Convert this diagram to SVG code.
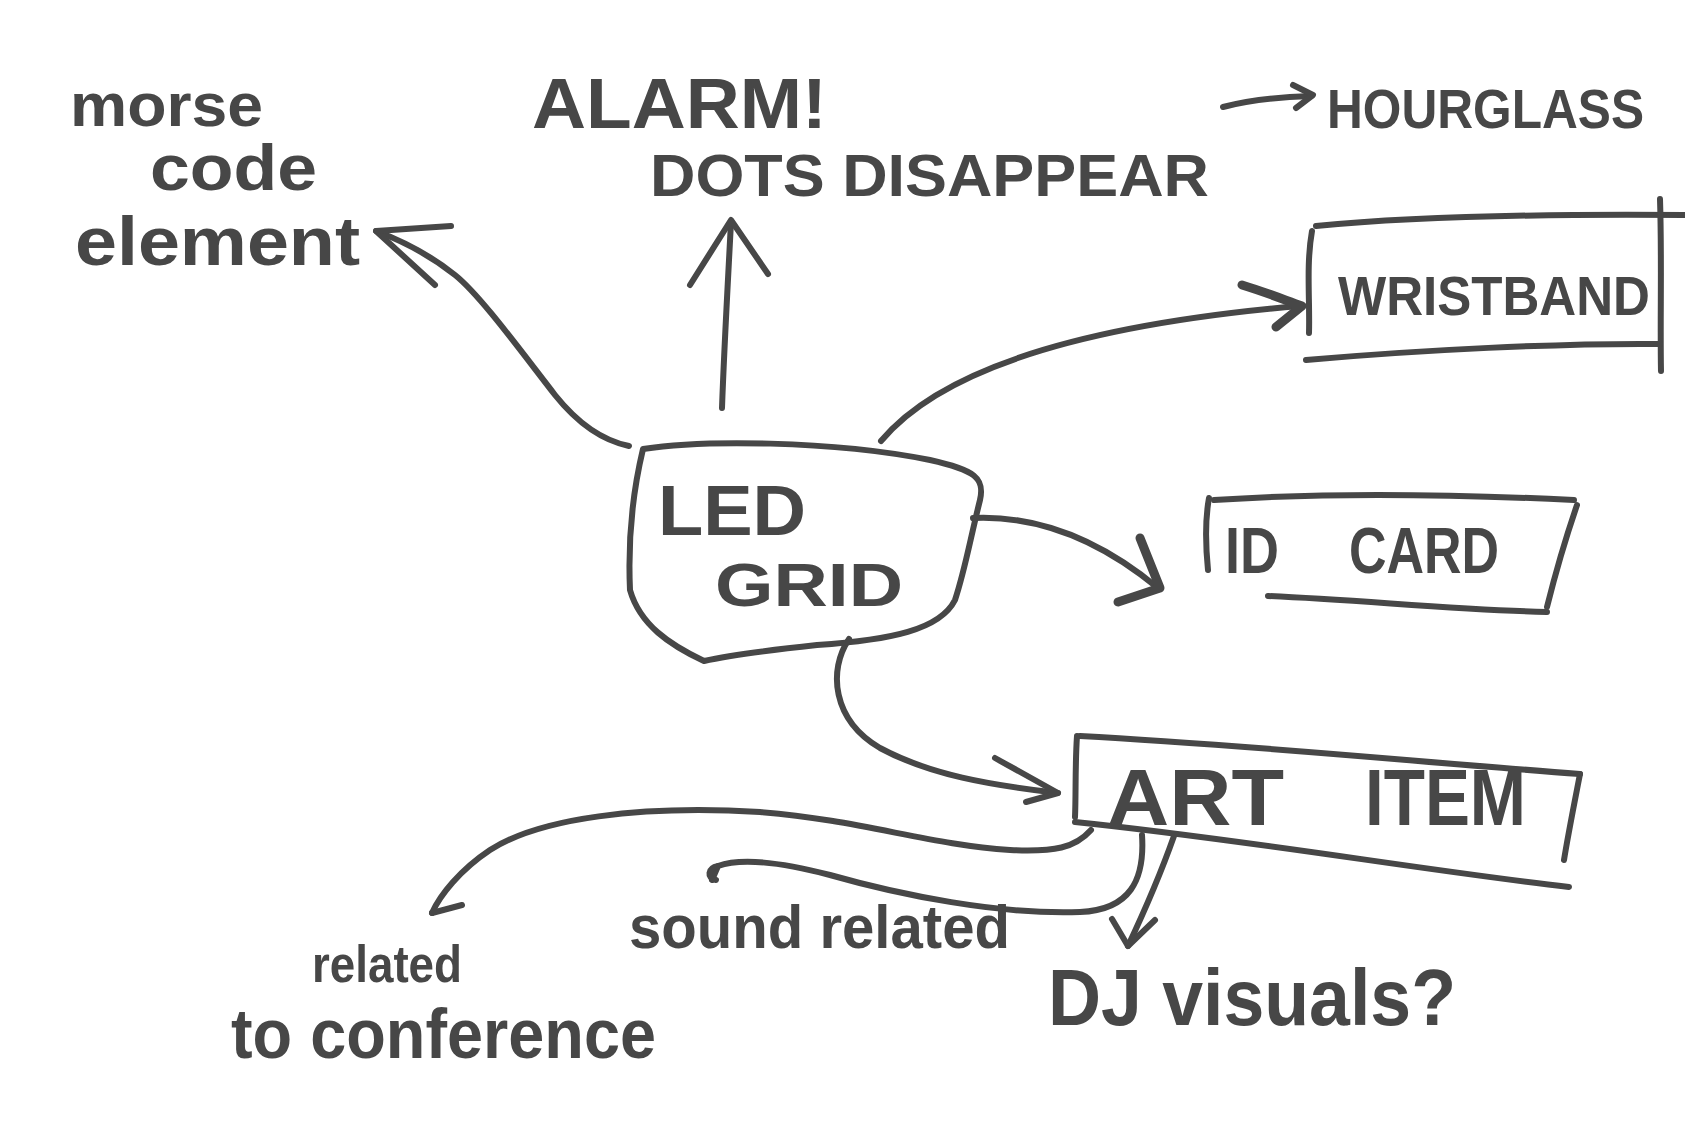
<svg xmlns="http://www.w3.org/2000/svg" width="1685" height="1139" viewBox="0 0 1685 1139">
<style>
.ink{fill:none;stroke:#474747;stroke-width:6;stroke-linecap:round;stroke-linejoin:round}
.t{fill:#474747;font-family:"Liberation Sans","DejaVu Sans",sans-serif;font-weight:bold}
</style>
<rect width="1685" height="1139" fill="#ffffff"/>
<g id="connectors">
<path class="ink" d="M629,446 C600,440 575,420 555,395 C520,350 480,295 455,275 C430,255 400,240 376,231"/>
<path class="ink" d="M451,226 L376,231 L435,285"/>
<path class="ink" d="M722,408 C724,350 728,280 731,222"/>
<path class="ink" d="M690,285 L731,220 L768,274"/>
<path class="ink" d="M1223,107 C1250,100 1280,97 1311,96"/>
<path class="ink" d="M1293,85 L1313,95 L1296,108"/>
<path class="ink" d="M881,441 C940,370 1080,325 1300,306"/>
<path class="ink" d="M1242,285 C1265,292 1285,300 1302,306 L1276,327" style="stroke-width:9"/>
<path class="ink" d="M973,518 C1040,515 1100,540 1158,588"/>
<path class="ink" d="M1140,538 L1160,588 L1118,602" style="stroke-width:9"/>
<path class="ink" d="M849,639 C828,670 832,720 880,748 C930,775 990,785 1058,793"/>
<path class="ink" d="M995,758 L1058,793 L1026,802"/>
<path class="ink" d="M1091,830 C1075,848 1055,852 1010,850 C930,845 860,820 760,812 C640,805 540,818 490,850 C460,870 440,895 432,913"/>
<path class="ink" d="M432,913 L462,905"/>
<path class="ink" d="M1142,835 C1145,880 1130,910 1080,912 C1000,915 900,895 830,875 C780,862 740,858 718,866 L712,880"/>
<path class="ink" d="M718,866 C708,868 706,878 716,880"/>
<path class="ink" d="M1174,836 C1162,870 1145,910 1128,946"/>
<path class="ink" d="M1112,919 L1128,946 L1155,920"/>
</g>
<g id="morse">
<text class="t" x="70" y="126" font-size="62" textLength="193" lengthAdjust="spacingAndGlyphs">morse</text>
<text class="t" x="150" y="190" font-size="64" textLength="167" lengthAdjust="spacingAndGlyphs">code</text>
<text class="t" x="75" y="265" font-size="68" textLength="285" lengthAdjust="spacingAndGlyphs">element</text>
</g>
<g id="alarm">
<text class="t" x="532" y="128" font-size="70" textLength="295" lengthAdjust="spacingAndGlyphs">ALARM!</text>
<text class="t" x="650" y="196" font-size="60" textLength="559" lengthAdjust="spacingAndGlyphs">DOTS DISAPPEAR</text>
</g>
<g id="hourglass">
<text class="t" x="1327" y="128" font-size="55" textLength="317" lengthAdjust="spacingAndGlyphs">HOURGLASS</text>
</g>
<g id="wristband">
<path class="ink" d="M1316,226 C1420,216 1560,214 1685,215"/>
<path class="ink" d="M1312,231 C1306,265 1310,300 1309,333"/>
<path class="ink" d="M1660,199 C1662,260 1660,320 1661,371"/>
<path class="ink" d="M1306,360 C1420,350 1560,343 1660,344"/>
<text class="t" x="1338" y="315" font-size="55" textLength="312" lengthAdjust="spacingAndGlyphs">WRISTBAND</text>
</g>
<g id="led-grid">
<path class="ink" d="M643,449 C700,440 830,440 930,460 C975,470 985,478 980,500 C970,540 965,570 955,600 C940,630 890,640 817,645 C770,650 730,655 704,661 C670,645 640,625 630,590 C628,545 632,495 643,449 Z"/>
<text class="t" x="658" y="535" font-size="70" textLength="148" lengthAdjust="spacingAndGlyphs">LED</text>
<text class="t" x="715" y="606" font-size="62" textLength="188" lengthAdjust="spacingAndGlyphs">GRID</text>
</g>
<g id="id-card">
<path class="ink" d="M1214,500 C1330,492 1470,495 1574,500"/>
<path class="ink" d="M1209,498 C1205,520 1206,550 1208,570"/>
<path class="ink" d="M1577,505 C1565,540 1555,575 1547,607"/>
<path class="ink" d="M1268,596 C1360,600 1460,610 1547,612"/>
<text class="t" x="1225" y="573" font-size="64" textLength="54" lengthAdjust="spacingAndGlyphs">ID</text>
<text class="t" x="1349" y="573" font-size="64" textLength="150" lengthAdjust="spacingAndGlyphs">CARD</text>
</g>
<g id="art-item">
<path class="ink" d="M1080,736 C1250,745 1420,762 1580,774"/>
<path class="ink" d="M1077,736 C1075,765 1076,795 1075,817"/>
<path class="ink" d="M1580,774 C1574,805 1568,835 1564,860"/>
<path class="ink" d="M1075,822 C1250,840 1420,870 1569,887"/>
<text class="t" x="1107" y="825" font-size="80" textLength="177" lengthAdjust="spacingAndGlyphs">ART</text>
<text class="t" x="1365" y="825" font-size="80" textLength="161" lengthAdjust="spacingAndGlyphs">ITEM</text>
</g>
<g id="sound-related">
<text class="t" x="629" y="948" font-size="62" textLength="381" lengthAdjust="spacingAndGlyphs">sound related</text>
</g>
<g id="related-conference">
<text class="t" x="312" y="982" font-size="52" textLength="150" lengthAdjust="spacingAndGlyphs">related</text>
<text class="t" x="231" y="1058" font-size="70" textLength="425" lengthAdjust="spacingAndGlyphs">to conference</text>
</g>
<g id="dj-visuals">
<text class="t" x="1048" y="1025" font-size="80" textLength="408" lengthAdjust="spacingAndGlyphs">DJ visuals?</text>
</g>
</svg>
